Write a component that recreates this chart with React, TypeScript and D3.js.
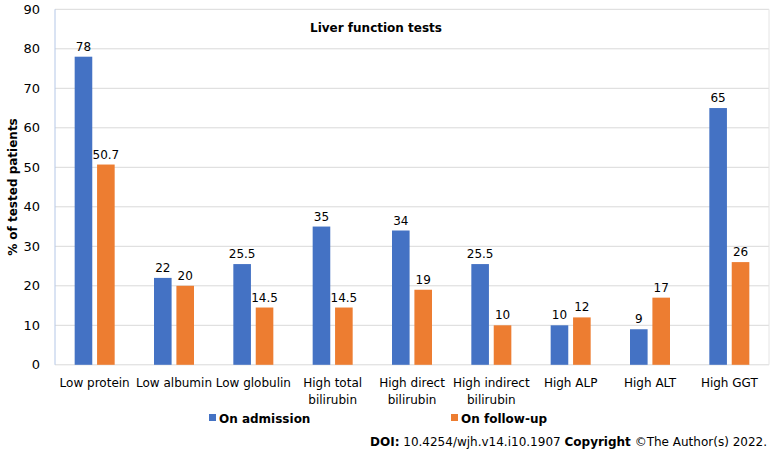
import React from "react";
import * as d3 from "d3";

const categories = [
  ["Low protein"],
  ["Low albumin"],
  ["Low globulin"],
  ["High total", "bilirubin"],
  ["High direct", "bilirubin"],
  ["High indirect", "bilirubin"],
  ["High ALP"],
  ["High ALT"],
  ["High GGT"],
];
const admission = [78, 22, 25.5, 35, 34, 25.5, 10, 9, 65];
const followUp = [50.7, 20, 14.5, 14.5, 19, 10, 12, 17, 26];
const yTicks = [0, 10, 20, 30, 40, 50, 60, 70, 80, 90];
const seriesNames = ["On admission", "On follow-up"];
const colors = ["#4472C4", "#ED7D31"];

const W = 773;
const H = 451;
const left = 55;
const right = 769;
const top = 9.3;
const bottom = 364.8;
const font = "'DejaVu Sans', Verdana, sans-serif";

export default function App() {
  const x = d3
    .scaleBand<number>()
    .domain(categories.map((_, i) => i))
    .range([left, right]);
  const y = d3.scaleLinear().domain([0, 90]).range([bottom, top]);
  const barW = 17.6;
  const gap = 4.8;
  const series = [admission, followUp];

  return (
    <svg
      width={W}
      height={H}
      style={{ position: "absolute", left: 0, top: 0, background: "#fff" }}
      fontFamily={font}
    >
      {yTicks.map((t) => (
        <g key={t}>
          <line
            x1={left}
            x2={right}
            y1={y(t)}
            y2={y(t)}
            stroke="#d9d9d9"
            strokeWidth={1}
          />
          <text
            x={40}
            y={y(t) + 4.5}
            textAnchor="end"
            fontSize={13}
            fill="#000"
          >
            {t}
          </text>
        </g>
      ))}
      <line x1={right} x2={right} y1={top} y2={bottom} stroke="#e4e4e4" />
      <line x1={left} x2={left} y1={top} y2={bottom} stroke="#b4c7e7" />
      {categories.map((lines, i) => {
        const cx = x(i)! + x.bandwidth() / 2;
        return (
          <g key={i}>
            {series.map((s, k) => {
              const bx = k === 0 ? cx - gap / 2 - barW : cx + gap / 2;
              return (
                <g key={k}>
                  <rect
                    x={bx}
                    y={y(s[i])}
                    width={barW}
                    height={bottom - y(s[i])}
                    fill={colors[k]}
                  />
                  <text
                    x={bx + barW / 2}
                    y={y(s[i]) - 6}
                    textAnchor="middle"
                    fontSize={12}
                  >
                    {s[i]}
                  </text>
                </g>
              );
            })}
            {lines.map((l, j) => (
              <text
                key={j}
                x={cx}
                y={387 + j * 17}
                textAnchor="middle"
                fontSize={12}
              >
                {l}
              </text>
            ))}
          </g>
        );
      })}
      <text
        x={376}
        y={32}
        textAnchor="middle"
        fontSize={12}
        fontWeight="bold"
      >
        Liver function tests
      </text>
      <text
        transform={`translate(17, ${(top + bottom) / 2}) rotate(-90)`}
        textAnchor="middle"
        fontSize={12}
        fontWeight="bold"
      >
        % of tested patients
      </text>
      {seriesNames.map((n, k) => {
        const lx = k === 0 ? 209 : 451;
        return (
          <g key={n}>
            <rect x={lx} y={414} width={7} height={7} fill={colors[k]} />
            <text x={lx + 10} y={423} fontSize={12} fontWeight="bold">
              {n}
            </text>
          </g>
        );
      })}
      <text x={767} y={446} textAnchor="end" fontSize={12}>
        <tspan fontWeight="bold">DOI:</tspan> 10.4254/wjh.v14.i10.1907{" "}
        <tspan fontWeight="bold">Copyright</tspan> ©The Author(s) 2022.
      </text>
    </svg>
  );
}
